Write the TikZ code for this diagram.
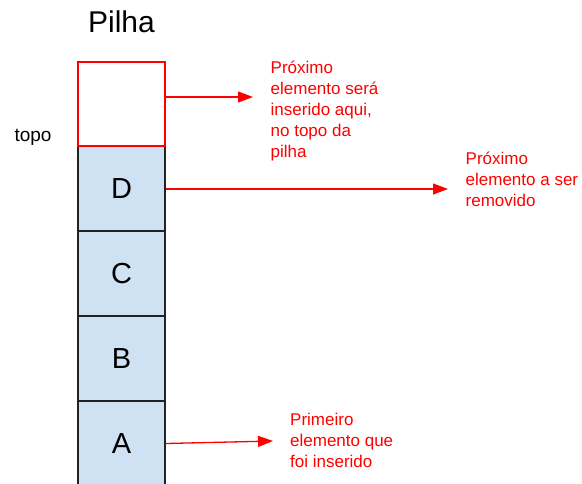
\documentclass[tikz,border=0pt]{standalone}
\usepackage{fontspec}
\setmainfont{Liberation Sans}
\usetikzlibrary{arrows.meta}
\definecolor{cellblue}{HTML}{CFE2F3}
\definecolor{edge}{HTML}{222222}
\definecolor{pred}{HTML}{FF0000}
\begin{document}
\begin{tikzpicture}[x=1pt,y=-1pt,
  cell/.style={draw=edge,line width=1.4pt,fill=cellblue,minimum width=87pt,minimum height=85pt,inner sep=0pt,font=\fontsize{29}{33}\selectfont},
  slot/.style={draw=pred,line width=1.4pt,fill=white,minimum width=87pt,minimum height=84pt,inner sep=0pt},
  note/.style={text=pred,anchor=north west,align=left,inner sep=0pt,font=\fontsize{17}{21}\selectfont},
  arr/.style={draw=pred,line width=1.3pt,-{Triangle[length=15pt,width=11pt]}}]
\useasboundingbox (0,0) rectangle (582,483);
\clip (0,0) rectangle (582,483);
\node[font=\fontsize{30}{34}\selectfont] (title) at (121.5,22) {Pilha};
\node[font=\fontsize{19}{22}\selectfont] (topo) at (33,137) {topo};
\node[cell] (A) at (121.5,443.5) {A};
\node[cell] (B) at (121.5,358.5) {B};
\node[cell] (C) at (121.5,273.5) {C};
\node[cell] (D) at (121.5,188.5) {D};
\node[slot] (empty) at (121.5,103.8) {};
\node[note] (n1) at (270.5,61) {Próximo\\elemento será\\inserido aqui,\\no topo da\\pilha};
\node[note] (n2) at (465.5,152) {Próximo\\elemento a ser\\removido};
\node[note] (n3) at (290,413) {Primeiro\\elemento que\\foi inserido};
\coordinate (t1) at (253,97);
\coordinate (t2) at (448,189);
\coordinate (t3) at (273,441);
\draw[arr] (empty.east |- t1) -- (t1);
\draw[arr] (D.east |- t2) -- (t2);
\draw[arr] (A.east) -- (t3);
\end{tikzpicture}
\end{document}
